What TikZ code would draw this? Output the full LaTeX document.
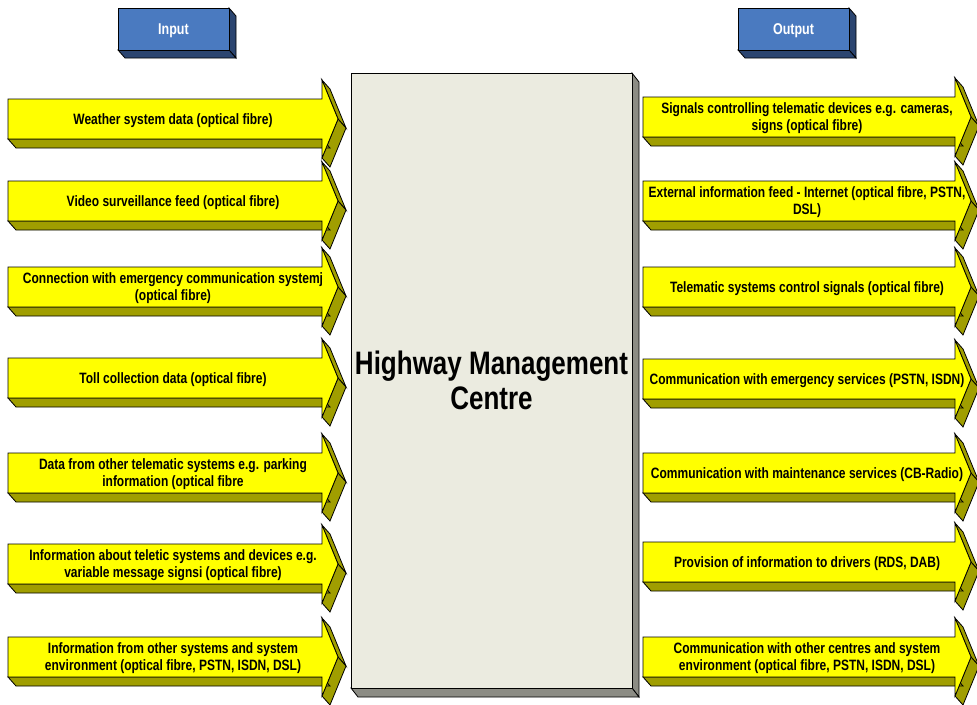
\documentclass[tikz,border=0pt]{standalone}
\usepackage{fontspec}
\setmainfont{Liberation Sans}
\usepackage{graphicx}
\usepackage{xcolor}
\usepackage{tikz}

\definecolor{arrowface}{HTML}{FFFF00}
\definecolor{arrowside}{HTML}{A09E00}
\definecolor{boxface}{HTML}{4A7AC0}
\definecolor{boxside}{HTML}{2B4570}
\definecolor{hmcface}{HTML}{EBEBE0}
\definecolor{hmcside}{HTML}{8C8C84}

% text in the reference is drawn a bit taller than wide
\newcommand{\tallbox}[1]{\scalebox{1}[1.25]{\begin{tabular}{@{}c@{}}#1\end{tabular}}}

% extruded arrow: #1 name, #2 left x, #3 head base x, #4 centre y, #5 text
\newcommand{\ioarrow}[5]{%
  \filldraw[side] (#3,#4-39) -- (#3+16,#4) -- (#3+24,#4+9) -- (#3+8,#4-30) -- cycle;
  \filldraw[side] (#3+16,#4) -- (#3,#4+39) -- (#3+8,#4+48) -- (#3+24,#4+9) -- cycle;
  \filldraw[side] (#3,#4+20) -- (#2,#4+20) -- (#2+8,#4+29) -- (#3+8,#4+29) -- cycle;
  \filldraw[face] (#2,#4-20) -- (#3,#4-20) -- (#3,#4-39) -- (#3+16,#4)
    -- (#3,#4+39) -- (#3,#4+20) -- (#2,#4+20) -- cycle;
  \node[lbl] (#1) at ({(#2+#3+16)/2},#4+2) {\tallbox{#5}};
}

\begin{document}
\begin{tikzpicture}[
  x=1pt, y=-1pt,
  line width=0.8pt,
  face/.style={fill=arrowface, draw=black},
  side/.style={fill=arrowside, draw=black},
  lbl/.style={font=\fontsize{12}{13.6}\selectfont\bfseries, inner sep=0pt},
  head/.style={font=\fontsize{12.5}{14}\selectfont\bfseries, text=white, inner sep=0pt}
]
\useasboundingbox (0,0) rectangle (977,704);
\clip (0,0) rectangle (977,704);

% input / output headers
\foreach \xa/\nm/\txt in {118/input/Input, 738/output/Output} {
  \filldraw[fill=boxside, draw=black] (\xa+111,8) -- (\xa+118,16) -- (\xa+118,58) -- (\xa+111,50) -- cycle;
  \filldraw[fill=boxside, draw=black] (\xa,50) -- (\xa+111,50) -- (\xa+118,58) -- (\xa+7,58) -- cycle;
  \filldraw[fill=boxface, draw=black] (\xa,8) rectangle (\xa+111,50);
  \node[head] (\nm) at (\xa+55.5,31) {\tallbox{\txt}};
}

% centre block
\filldraw[fill=hmcside, draw=black] (632,73) -- (639,82) -- (639,697) -- (632,688) -- cycle;
\filldraw[fill=hmcside, draw=black] (351,688) -- (632,688) -- (639,697) -- (358,697) -- cycle;
\filldraw[fill=hmcface, draw=black] (351,73) rectangle (632,688);
\node[font=\fontsize{26}{28}\selectfont\bfseries, inner sep=0pt] (hmc) at (491.5,385)
  {\tallbox{Highway Management\\Centre}};

% inputs
\foreach \yc/\nm/\txt in {
  119/in1/{Weather system data (optical fibre)},
  201/in2/{Video surveillance feed (optical fibre)},
  287/in3/{Connection with emergency communication systemj\\(optical fibre)},
  378/in4/{Toll collection data (optical fibre)},
  473/in5/{Data from other telematic systems e.g. parking\\information (optical fibre},
  564/in6/{Information about teletic systems and devices e.g.\\variable message signsi (optical fibre)},
  657/in7/{Information from other systems and system\\environment (optical fibre, PSTN, ISDN, DSL)}} {
  \ioarrow{\nm}{8}{322}{\yc}{\txt}
}

% outputs
\foreach \yc/\nm/\txt in {
  117/out1/{Signals controlling telematic devices e.g. cameras,\\signs (optical fibre)},
  201/out2/{External information feed - Internet (optical fibre, PSTN,\\DSL)},
  287/out3/{Telematic systems control signals (optical fibre)},
  379/out4/{Communication with emergency services (PSTN, ISDN)},
  473/out5/{Communication with maintenance services (CB-Radio)},
  562/out6/{Provision of information to drivers (RDS, DAB)},
  657/out7/{Communication with other centres and system\\environment (optical fibre, PSTN, ISDN, DSL)}} {
  \ioarrow{\nm}{643}{955}{\yc}{\txt}
}
\end{tikzpicture}
\end{document}
